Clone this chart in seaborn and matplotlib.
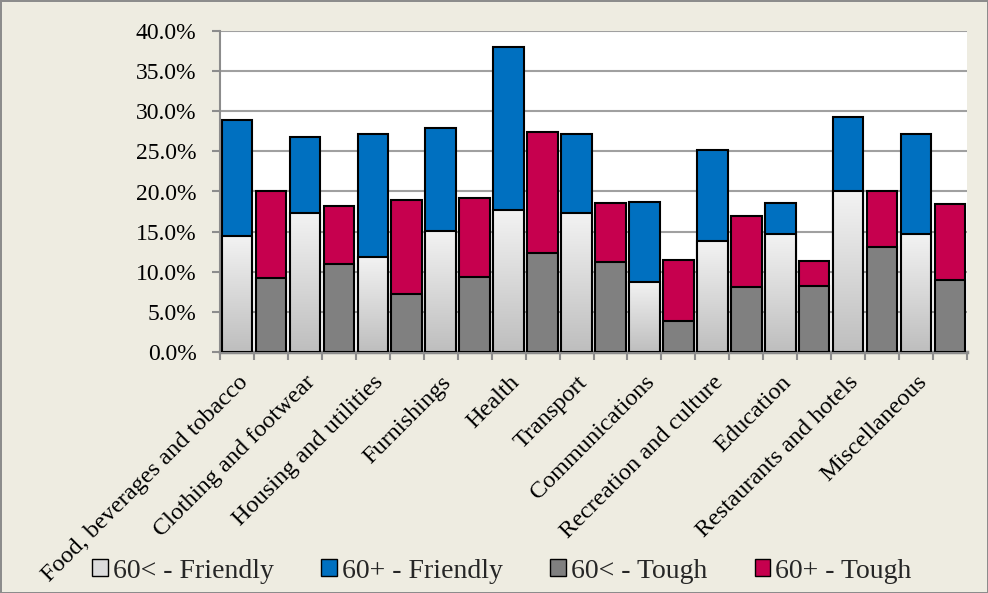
import numpy as np
import pandas as pd
import matplotlib
matplotlib.use("Agg")
import matplotlib.pyplot as plt
import matplotlib.ticker as ticker
import seaborn as sns
from matplotlib.colors import LinearSegmentedColormap, to_rgba
from matplotlib.patches import Patch

# Data (% share)
categories = [
    "Food, beverages and tobacco", "Clothing and footwear", "Housing and utilities",
    "Furnishings", "Health", "Transport", "Communications", "Recreation and culture",
    "Education", "Restaurants and hotels", "Miscellaneous",
]
friendly_young = [14.5, 17.3, 11.9, 15.1, 17.7, 17.3, 8.8, 13.8, 14.7, 20.0, 14.7]
friendly_old = [14.4, 9.5, 15.3, 12.8, 20.3, 9.8, 9.9, 11.4, 3.9, 9.3, 12.4]
tough_young = [9.3, 11.0, 7.3, 9.4, 12.3, 11.2, 3.9, 8.1, 8.2, 13.1, 9.0]
tough_old = [10.8, 7.2, 11.7, 9.8, 15.1, 7.4, 7.6, 8.8, 3.1, 7.0, 9.4]

legend_labels = ["60< - Friendly", "60+ - Friendly", "60< - Tough", "60+ - Tough"]

# Colours
BG = "#EEECE1"
BLUE = "#0070C0"
CRIMSON = "#C6004E"
LIGHT = "#DCDCDC"
DARK = "#808080"
AXIS_GREY = "#8C8C8C"

rows = []
for i, cat in enumerate(categories):
    rows.append({"category": cat, "scenario": "Friendly",
                 "young": friendly_young[i], "total": friendly_young[i] + friendly_old[i]})
    rows.append({"category": cat, "scenario": "Tough",
                 "young": tough_young[i], "total": tough_young[i] + tough_old[i]})
df = pd.DataFrame(rows)

sns.set_theme(style="white")
plt.rcParams["font.family"] = ["Liberation Serif", "DejaVu Serif"]

fig = plt.figure(figsize=(9.88, 5.93), dpi=100, facecolor=BG,
                 edgecolor=AXIS_GREY, linewidth=2)
ax = fig.add_axes([220 / 988, 1 - 352.3 / 593, (967 - 220) / 988, (352.3 - 30.7) / 593])
ax.set_facecolor("white")

# full stack height (60+ colour), then the 60< part drawn on top of it
sns.barplot(data=df, x="category", y="total", hue="scenario", order=categories,
            hue_order=["Friendly", "Tough"], palette={"Friendly": BLUE, "Tough": CRIMSON},
            saturation=1, width=1.0, gap=0.1, edgecolor="black", linewidth=1.5,
            errorbar=None, legend=False, ax=ax, zorder=2)
n_top = len(ax.patches)
sns.barplot(data=df, x="category", y="young", hue="scenario", order=categories,
            hue_order=["Friendly", "Tough"], palette={"Friendly": LIGHT, "Tough": DARK},
            saturation=1, width=1.0, gap=0.1, edgecolor="black", linewidth=1.5,
            errorbar=None, legend=False, ax=ax, zorder=3)

# gradient fill on the light grey bars
grey_cmap = LinearSegmentedColormap.from_list("grey_grad", ["#BEBEBE", "#F3F3F3"])
grad = np.linspace(0, 1, 256).reshape(-1, 1)
for p in ax.patches[n_top:]:
    if np.allclose(p.get_facecolor(), to_rgba(LIGHT), atol=0.02):
        x0, y0 = p.get_x(), p.get_y()
        w, h = p.get_width(), p.get_height()
        im = ax.imshow(grad, extent=[x0, x0 + w, y0, y0 + h], origin="lower",
                       aspect="auto", cmap=grey_cmap, zorder=3.1)
        im.set_clip_path(p)
        p.set_facecolor("none")
        p.set_zorder(3.2)

ax.set_xlim(-0.5, 10.5)
ax.set_ylim(0, 40)
ax.set_xlabel("")
ax.set_ylabel("")

# y axis
ax.yaxis.set_major_locator(ticker.MultipleLocator(5))
ax.yaxis.set_major_formatter(ticker.FuncFormatter(lambda v, pos: f"{v:.1f}%"))
ax.yaxis.grid(True, color="#A0A0A0", linewidth=1.5)
ax.set_axisbelow(True)
ax.tick_params(axis="y", which="major", left=True, length=6, width=1.5,
               color=AXIS_GREY, pad=11, labelsize=17, labelcolor="black")

# x axis: tick marks at slot edges, labels under the Friendly bar
ax.set_xticks(np.arange(-0.5, 10.75, 0.5))
ax.set_xticklabels([])
ax.set_xticks(np.arange(len(categories)) - 0.25, minor=True)
ax.set_xticklabels(categories, minor=True, rotation=45, ha="right",
                   rotation_mode="anchor")
ax.tick_params(axis="x", which="major", bottom=True, length=6, width=1.5, color=AXIS_GREY)
ax.tick_params(axis="x", which="minor", bottom=True, length=0, pad=14,
               labelsize=17.5, labelcolor="black")

for side in ["top", "right"]:
    ax.spines[side].set_visible(False)
ax.spines["left"].set_color(AXIS_GREY)
ax.spines["left"].set_linewidth(1.5)
ax.spines["bottom"].set_color(AXIS_GREY)
ax.spines["bottom"].set_linewidth(2.5)

handles = [
    Patch(facecolor=LIGHT, edgecolor="black", label=legend_labels[0]),
    Patch(facecolor=BLUE, edgecolor="black", label=legend_labels[1]),
    Patch(facecolor=DARK, edgecolor="black", label=legend_labels[2]),
    Patch(facecolor=CRIMSON, edgecolor="black", label=legend_labels[3]),
]
fig.legend(handles=handles, loc="center", bbox_to_anchor=(502 / 988, 1 - 571 / 593),
           ncol=4, frameon=False, fontsize=20, handlelength=0.55, handleheight=0.55,
           handletextpad=0.2, columnspacing=1.7, borderpad=0)

fig.savefig("out.png", dpi=100, facecolor=BG)
